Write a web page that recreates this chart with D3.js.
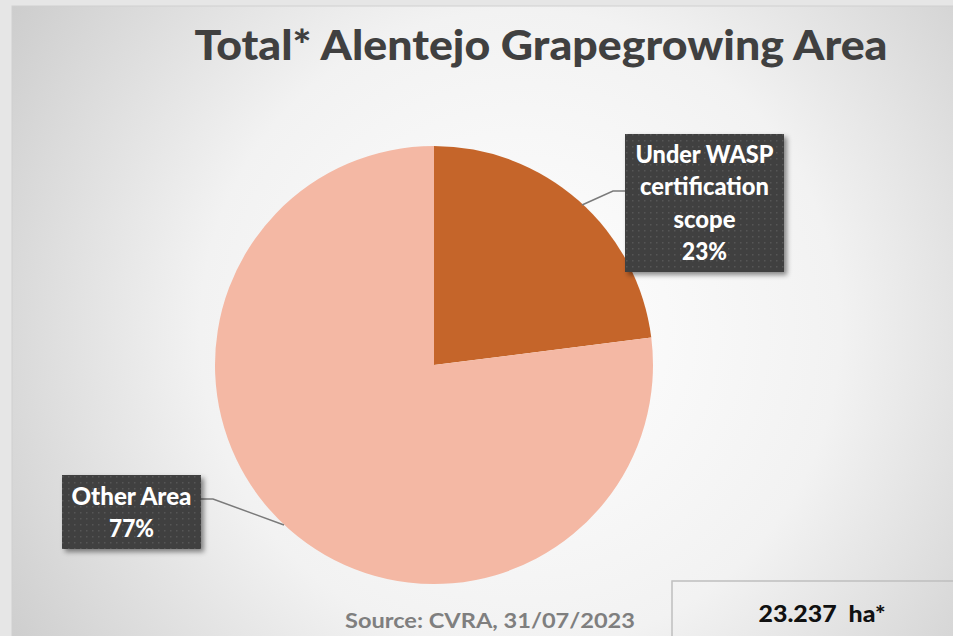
<!DOCTYPE html>
<html>
<head>
<meta charset="utf-8">
<script src="https://cdn.jsdelivr.net/npm/d3@7"></script>
<style>
  body { margin: 0; background: #e4e4e4; }
  svg { display: block; }
</style>
</head>
<body>
<svg class="chart" width="953" height="636"></svg>
<script>
var categories = ['Under WASP certification scope', 'Other Area'];
var shares = [23, 77];
var labelLines = [['Under WASP', 'certification', 'scope', '23%'], ['Other Area', '77%']];
var sliceColors = ['#c5652a', '#f4b8a4'];

var width = 953, height = 636;
var cx = 434, cy = 365, radius = 219;
var font = 'Lato, "Open Sans", sans-serif';

var svg = d3.select('.chart');
var defs = svg.append('defs');

/* Background panel */
var grad = defs.append('radialGradient')
    .attr('id', 'panelGrad')
    .attr('gradientUnits', 'userSpaceOnUse')
    .attr('cx', 520).attr('cy', 330).attr('r', 640);
grad.append('stop').attr('offset', '0%').attr('stop-color', '#ffffff');
grad.append('stop').attr('offset', '50%').attr('stop-color', '#f2f2f2');
grad.append('stop').attr('offset', '100%').attr('stop-color', '#c8c8c8');

var dots = defs.append('pattern')
    .attr('id', 'dots')
    .attr('patternUnits', 'userSpaceOnUse')
    .attr('width', 6).attr('height', 6);
dots.append('rect').attr('width', 6).attr('height', 6).attr('fill', '#3f3f3f');
dots.append('rect').attr('x', 2).attr('y', 2).attr('width', 1.5).attr('height', 1.5).attr('fill', '#575757');

var shadow = defs.append('filter').attr('id', 'shadow')
    .attr('x', '-20%').attr('y', '-20%').attr('width', '140%').attr('height', '140%');
shadow.append('feDropShadow')
    .attr('dx', 3).attr('dy', 3).attr('stdDeviation', 2.5)
    .attr('flood-color', '#000').attr('flood-opacity', 0.45);

svg.append('rect')
    .attr('width', width).attr('height', height)
    .attr('fill', '#e6e6e6');

svg.append('rect')
    .attr('x', 12).attr('y', 6)
    .attr('width', width).attr('height', height)
    .attr('fill', 'url(#panelGrad)')
    .attr('stroke', '#d0d0d0');

/* Title */
svg.append('text')
    .attr('x', 541).attr('y', 60)
    .attr('text-anchor', 'middle')
    .attr('font-family', font)
    .attr('font-weight', 900)
    .attr('font-size', 41)
    .attr('textLength', 693)
    .attr('lengthAdjust', 'spacingAndGlyphs')
    .attr('fill', '#404040')
    .text('Total* Alentejo Grapegrowing Area');

/* Pie */
var pie = d3.pie().sort(null).value(function(d) { return d; });
var arcs = pie(shares);
var arcGen = d3.arc().innerRadius(0).outerRadius(radius);

var g = svg.append('g').attr('transform', 'translate(' + cx + ',' + cy + ')');
g.selectAll('path')
    .data(arcs)
    .join('path')
    .attr('d', arcGen)
    .attr('fill', function(d, i) { return sliceColors[i]; });

/* Labels with leader lines */
var boxes = [
    { x: 625, y: 134, w: 159, h: 138, lx: 613, ly: 191, px: 582, py: 205,
      base: 163, step: 32.3, widths: [138, 129, 62, 45] },
    { x: 62, y: 475, w: 139, h: 74, lx: 213, ly: 499, px: 284, py: 525,
      base: 505, step: 32, widths: [120, 45] }
];

boxes.forEach(function(b, i) {
    var attachX = i === 0 ? b.x : b.x + b.w;
    svg.append('polyline')
        .attr('points', [[attachX, b.ly], [b.lx, b.ly], [b.px, b.py]].join(' '))
        .attr('fill', 'none')
        .attr('stroke', '#7a7a7a')
        .attr('stroke-width', 1.5);

    svg.append('rect')
        .attr('x', b.x).attr('y', b.y)
        .attr('width', b.w).attr('height', b.h)
        .attr('fill', 'url(#dots)')
        .attr('filter', 'url(#shadow)');

    var lines = labelLines[i];
    svg.append('g')
        .selectAll('text')
        .data(lines)
        .join('text')
        .attr('x', b.x + b.w / 2)
        .attr('y', function(d, j) { return b.base + j * b.step; })
        .attr('text-anchor', 'middle')
        .attr('font-family', font)
        .attr('font-weight', 900)
        .attr('font-size', 24)
        .attr('textLength', function(d, j) { return b.widths[j]; })
        .attr('lengthAdjust', 'spacingAndGlyphs')
        .attr('fill', '#ffffff')
        .text(function(d) { return d; });
});

/* Source and total box */
svg.append('text')
    .attr('x', 345).attr('y', 628)
    .attr('font-family', font)
    .attr('font-weight', 'bold')
    .attr('font-size', 21)
    .attr('textLength', 290)
    .attr('lengthAdjust', 'spacingAndGlyphs')
    .attr('fill', '#7f7f7f')
    .text('Source: CVRA, 31/07/2023');

svg.append('rect')
    .attr('x', 672).attr('y', 581)
    .attr('width', 300).attr('height', 80)
    .attr('fill', 'none')
    .attr('stroke', '#bfbfbf')
    .attr('stroke-width', 1.5);

svg.append('text')
    .attr('x', 822).attr('y', 622)
    .attr('text-anchor', 'middle')
    .attr('font-family', font)
    .attr('font-weight', 900)
    .attr('font-size', 23)
    .attr('textLength', 127)
    .attr('lengthAdjust', 'spacingAndGlyphs')
    .attr('fill', '#111111')
    .attr('xml:space', 'preserve')
    .text('23.237  ha*');
</script>
</body>
</html>
